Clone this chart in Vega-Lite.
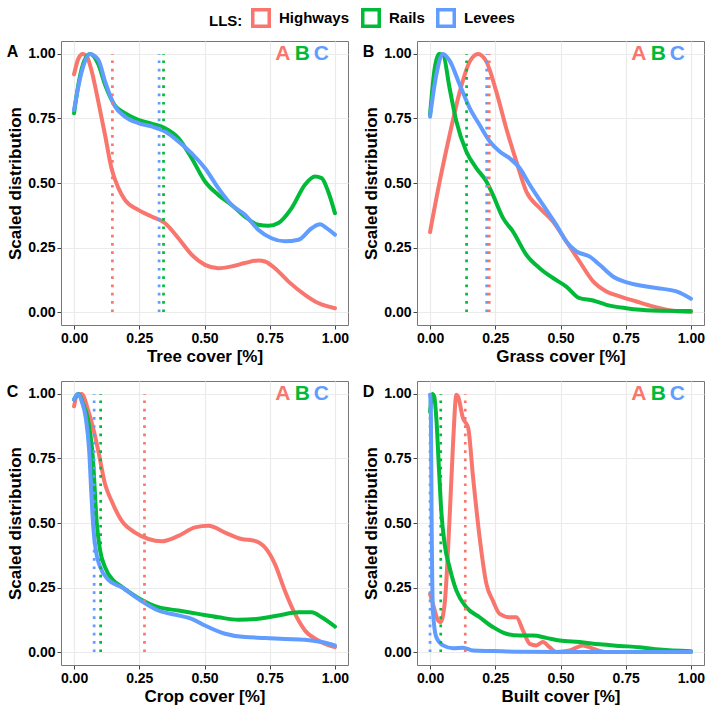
{
  "$schema": "https://vega.github.io/schema/vega-lite/v6.json",
  "autosize": {"type": "pad"},
  "padding": {"left": 6, "top": 8, "right": 5, "bottom": 5},
  "background": "white",
  "config": {
    "font": "Liberation Sans",
    "view": {"stroke": "#777777", "strokeWidth": 1},
    "axis": {
      "domain": false,
      "labelFont": "Liberation Sans",
      "labelFontSize": 14,
      "labelFontWeight": "bold",
      "labelColor": "#000000",
      "labelPadding": 2,
      "titleFont": "Liberation Sans",
      "titleFontSize": 17,
      "titleFontWeight": "bold",
      "titleColor": "#000000",
      "titlePadding": 3,
      "tickColor": "#444444",
      "tickSize": 4,
      "gridColor": "#ebebeb",
      "labelOverlap": false,
      "labelFlush": false
    },
    "legend": {
      "orient": "none",
      "legendX": 148,
      "legendY": -33,
      "direction": "horizontal",
      "gridAlign": "none",
      "titleOrient": "left",
      "titleFont": "Liberation Sans",
      "titleFontSize": 15,
      "titleFontWeight": "bold",
      "titleColor": "#000000",
      "titlePadding": 8,
      "labelFont": "Liberation Sans",
      "labelFontSize": 15,
      "labelFontWeight": "bold",
      "labelColor": "#000000",
      "labelOffset": 8,
      "columnPadding": 5,
      "symbolType": "square",
      "symbolSize": 272,
      "symbolStrokeWidth": 3.5,
      "symbolFillColor": "white",
      "symbolDash": []
    },
    "title": {"font": "Liberation Sans", "fontSize": 16, "fontWeight": "bold", "color": "#000000"}
  },
  "datasets": {
    "curves": [
      {"cover": "Tree", "LLS": "Highways", "x": 0, "y": 0.921},
      {"cover": "Tree", "LLS": "Highways", "x": 0.017, "y": 0.983},
      {"cover": "Tree", "LLS": "Highways", "x": 0.033, "y": 1.0},
      {"cover": "Tree", "LLS": "Highways", "x": 0.049, "y": 0.99},
      {"cover": "Tree", "LLS": "Highways", "x": 0.068, "y": 0.932},
      {"cover": "Tree", "LLS": "Highways", "x": 0.093, "y": 0.815},
      {"cover": "Tree", "LLS": "Highways", "x": 0.119, "y": 0.685},
      {"cover": "Tree", "LLS": "Highways", "x": 0.144, "y": 0.555},
      {"cover": "Tree", "LLS": "Highways", "x": 0.17, "y": 0.48},
      {"cover": "Tree", "LLS": "Highways", "x": 0.195, "y": 0.435},
      {"cover": "Tree", "LLS": "Highways", "x": 0.246, "y": 0.396},
      {"cover": "Tree", "LLS": "Highways", "x": 0.297, "y": 0.37},
      {"cover": "Tree", "LLS": "Highways", "x": 0.348, "y": 0.345},
      {"cover": "Tree", "LLS": "Highways", "x": 0.4, "y": 0.286},
      {"cover": "Tree", "LLS": "Highways", "x": 0.451, "y": 0.222},
      {"cover": "Tree", "LLS": "Highways", "x": 0.502, "y": 0.183},
      {"cover": "Tree", "LLS": "Highways", "x": 0.553, "y": 0.17},
      {"cover": "Tree", "LLS": "Highways", "x": 0.604, "y": 0.177},
      {"cover": "Tree", "LLS": "Highways", "x": 0.655, "y": 0.19},
      {"cover": "Tree", "LLS": "Highways", "x": 0.706, "y": 0.2},
      {"cover": "Tree", "LLS": "Highways", "x": 0.732, "y": 0.196},
      {"cover": "Tree", "LLS": "Highways", "x": 0.77, "y": 0.17},
      {"cover": "Tree", "LLS": "Highways", "x": 0.821, "y": 0.119},
      {"cover": "Tree", "LLS": "Highways", "x": 0.885, "y": 0.067},
      {"cover": "Tree", "LLS": "Highways", "x": 0.936, "y": 0.035},
      {"cover": "Tree", "LLS": "Highways", "x": 1.0, "y": 0.015},

      {"cover": "Tree", "LLS": "Rails", "x": 0, "y": 0.77},
      {"cover": "Tree", "LLS": "Rails", "x": 0.02, "y": 0.9},
      {"cover": "Tree", "LLS": "Rails", "x": 0.04, "y": 0.975},
      {"cover": "Tree", "LLS": "Rails", "x": 0.061, "y": 1.0},
      {"cover": "Tree", "LLS": "Rails", "x": 0.093, "y": 0.96},
      {"cover": "Tree", "LLS": "Rails", "x": 0.119, "y": 0.88},
      {"cover": "Tree", "LLS": "Rails", "x": 0.157, "y": 0.8},
      {"cover": "Tree", "LLS": "Rails", "x": 0.195, "y": 0.77},
      {"cover": "Tree", "LLS": "Rails", "x": 0.246, "y": 0.745},
      {"cover": "Tree", "LLS": "Rails", "x": 0.297, "y": 0.73},
      {"cover": "Tree", "LLS": "Rails", "x": 0.349, "y": 0.712},
      {"cover": "Tree", "LLS": "Rails", "x": 0.4, "y": 0.674},
      {"cover": "Tree", "LLS": "Rails", "x": 0.451, "y": 0.596},
      {"cover": "Tree", "LLS": "Rails", "x": 0.502, "y": 0.506},
      {"cover": "Tree", "LLS": "Rails", "x": 0.553, "y": 0.454},
      {"cover": "Tree", "LLS": "Rails", "x": 0.604, "y": 0.415},
      {"cover": "Tree", "LLS": "Rails", "x": 0.655, "y": 0.37},
      {"cover": "Tree", "LLS": "Rails", "x": 0.706, "y": 0.338},
      {"cover": "Tree", "LLS": "Rails", "x": 0.745, "y": 0.334},
      {"cover": "Tree", "LLS": "Rails", "x": 0.783, "y": 0.345},
      {"cover": "Tree", "LLS": "Rails", "x": 0.834, "y": 0.403},
      {"cover": "Tree", "LLS": "Rails", "x": 0.885, "y": 0.493},
      {"cover": "Tree", "LLS": "Rails", "x": 0.923, "y": 0.525},
      {"cover": "Tree", "LLS": "Rails", "x": 0.949, "y": 0.519},
      {"cover": "Tree", "LLS": "Rails", "x": 0.974, "y": 0.467},
      {"cover": "Tree", "LLS": "Rails", "x": 1.0, "y": 0.383},

      {"cover": "Tree", "LLS": "Levees", "x": 0, "y": 0.783},
      {"cover": "Tree", "LLS": "Levees", "x": 0.029, "y": 0.93},
      {"cover": "Tree", "LLS": "Levees", "x": 0.061, "y": 1.0},
      {"cover": "Tree", "LLS": "Levees", "x": 0.093, "y": 0.977},
      {"cover": "Tree", "LLS": "Levees", "x": 0.119, "y": 0.893},
      {"cover": "Tree", "LLS": "Levees", "x": 0.157, "y": 0.796},
      {"cover": "Tree", "LLS": "Levees", "x": 0.195, "y": 0.757},
      {"cover": "Tree", "LLS": "Levees", "x": 0.246, "y": 0.732},
      {"cover": "Tree", "LLS": "Levees", "x": 0.297, "y": 0.719},
      {"cover": "Tree", "LLS": "Levees", "x": 0.349, "y": 0.699},
      {"cover": "Tree", "LLS": "Levees", "x": 0.4, "y": 0.661},
      {"cover": "Tree", "LLS": "Levees", "x": 0.451, "y": 0.615},
      {"cover": "Tree", "LLS": "Levees", "x": 0.502, "y": 0.557},
      {"cover": "Tree", "LLS": "Levees", "x": 0.553, "y": 0.48},
      {"cover": "Tree", "LLS": "Levees", "x": 0.604, "y": 0.415},
      {"cover": "Tree", "LLS": "Levees", "x": 0.655, "y": 0.377},
      {"cover": "Tree", "LLS": "Levees", "x": 0.706, "y": 0.319},
      {"cover": "Tree", "LLS": "Levees", "x": 0.757, "y": 0.286},
      {"cover": "Tree", "LLS": "Levees", "x": 0.808, "y": 0.274},
      {"cover": "Tree", "LLS": "Levees", "x": 0.86, "y": 0.28},
      {"cover": "Tree", "LLS": "Levees", "x": 0.911, "y": 0.325},
      {"cover": "Tree", "LLS": "Levees", "x": 0.943, "y": 0.34},
      {"cover": "Tree", "LLS": "Levees", "x": 0.968, "y": 0.325},
      {"cover": "Tree", "LLS": "Levees", "x": 1.0, "y": 0.3},

      {"cover": "Grass", "LLS": "Highways", "x": 0, "y": 0.31},
      {"cover": "Grass", "LLS": "Highways", "x": 0.037, "y": 0.506},
      {"cover": "Grass", "LLS": "Highways", "x": 0.075, "y": 0.686},
      {"cover": "Grass", "LLS": "Highways", "x": 0.114, "y": 0.854},
      {"cover": "Grass", "LLS": "Highways", "x": 0.152, "y": 0.97},
      {"cover": "Grass", "LLS": "Highways", "x": 0.184, "y": 1.0},
      {"cover": "Grass", "LLS": "Highways", "x": 0.216, "y": 0.97},
      {"cover": "Grass", "LLS": "Highways", "x": 0.254, "y": 0.854},
      {"cover": "Grass", "LLS": "Highways", "x": 0.292, "y": 0.712},
      {"cover": "Grass", "LLS": "Highways", "x": 0.331, "y": 0.583},
      {"cover": "Grass", "LLS": "Highways", "x": 0.369, "y": 0.467},
      {"cover": "Grass", "LLS": "Highways", "x": 0.42, "y": 0.403},
      {"cover": "Grass", "LLS": "Highways", "x": 0.471, "y": 0.351},
      {"cover": "Grass", "LLS": "Highways", "x": 0.522, "y": 0.274},
      {"cover": "Grass", "LLS": "Highways", "x": 0.573, "y": 0.196},
      {"cover": "Grass", "LLS": "Highways", "x": 0.625, "y": 0.119},
      {"cover": "Grass", "LLS": "Highways", "x": 0.676, "y": 0.08},
      {"cover": "Grass", "LLS": "Highways", "x": 0.727, "y": 0.061},
      {"cover": "Grass", "LLS": "Highways", "x": 0.791, "y": 0.041},
      {"cover": "Grass", "LLS": "Highways", "x": 0.854, "y": 0.022},
      {"cover": "Grass", "LLS": "Highways", "x": 0.931, "y": 0.005},
      {"cover": "Grass", "LLS": "Highways", "x": 1.0, "y": 0.0},

      {"cover": "Grass", "LLS": "Rails", "x": 0, "y": 0.764},
      {"cover": "Grass", "LLS": "Rails", "x": 0.018, "y": 0.945},
      {"cover": "Grass", "LLS": "Rails", "x": 0.034, "y": 1.0},
      {"cover": "Grass", "LLS": "Rails", "x": 0.05, "y": 0.996},
      {"cover": "Grass", "LLS": "Rails", "x": 0.075, "y": 0.867},
      {"cover": "Grass", "LLS": "Rails", "x": 0.101, "y": 0.738},
      {"cover": "Grass", "LLS": "Rails", "x": 0.139, "y": 0.622},
      {"cover": "Grass", "LLS": "Rails", "x": 0.178, "y": 0.557},
      {"cover": "Grass", "LLS": "Rails", "x": 0.216, "y": 0.506},
      {"cover": "Grass", "LLS": "Rails", "x": 0.241, "y": 0.454},
      {"cover": "Grass", "LLS": "Rails", "x": 0.28, "y": 0.364},
      {"cover": "Grass", "LLS": "Rails", "x": 0.318, "y": 0.312},
      {"cover": "Grass", "LLS": "Rails", "x": 0.369, "y": 0.222},
      {"cover": "Grass", "LLS": "Rails", "x": 0.42, "y": 0.17},
      {"cover": "Grass", "LLS": "Rails", "x": 0.471, "y": 0.132},
      {"cover": "Grass", "LLS": "Rails", "x": 0.522, "y": 0.099},
      {"cover": "Grass", "LLS": "Rails", "x": 0.573, "y": 0.054},
      {"cover": "Grass", "LLS": "Rails", "x": 0.625, "y": 0.045},
      {"cover": "Grass", "LLS": "Rails", "x": 0.676, "y": 0.028},
      {"cover": "Grass", "LLS": "Rails", "x": 0.752, "y": 0.015},
      {"cover": "Grass", "LLS": "Rails", "x": 0.854, "y": 0.006},
      {"cover": "Grass", "LLS": "Rails", "x": 1.0, "y": 0.004},

      {"cover": "Grass", "LLS": "Levees", "x": 0, "y": 0.757},
      {"cover": "Grass", "LLS": "Levees", "x": 0.024, "y": 0.919},
      {"cover": "Grass", "LLS": "Levees", "x": 0.05, "y": 1.0},
      {"cover": "Grass", "LLS": "Levees", "x": 0.075, "y": 0.974},
      {"cover": "Grass", "LLS": "Levees", "x": 0.114, "y": 0.88},
      {"cover": "Grass", "LLS": "Levees", "x": 0.152, "y": 0.79},
      {"cover": "Grass", "LLS": "Levees", "x": 0.19, "y": 0.725},
      {"cover": "Grass", "LLS": "Levees", "x": 0.229, "y": 0.661},
      {"cover": "Grass", "LLS": "Levees", "x": 0.267, "y": 0.622},
      {"cover": "Grass", "LLS": "Levees", "x": 0.305, "y": 0.596},
      {"cover": "Grass", "LLS": "Levees", "x": 0.344, "y": 0.557},
      {"cover": "Grass", "LLS": "Levees", "x": 0.382, "y": 0.493},
      {"cover": "Grass", "LLS": "Levees", "x": 0.433, "y": 0.415},
      {"cover": "Grass", "LLS": "Levees", "x": 0.484, "y": 0.338},
      {"cover": "Grass", "LLS": "Levees", "x": 0.522, "y": 0.274},
      {"cover": "Grass", "LLS": "Levees", "x": 0.561, "y": 0.235},
      {"cover": "Grass", "LLS": "Levees", "x": 0.612, "y": 0.215},
      {"cover": "Grass", "LLS": "Levees", "x": 0.65, "y": 0.183},
      {"cover": "Grass", "LLS": "Levees", "x": 0.701, "y": 0.138},
      {"cover": "Grass", "LLS": "Levees", "x": 0.765, "y": 0.112},
      {"cover": "Grass", "LLS": "Levees", "x": 0.829, "y": 0.099},
      {"cover": "Grass", "LLS": "Levees", "x": 0.893, "y": 0.09},
      {"cover": "Grass", "LLS": "Levees", "x": 0.944, "y": 0.08},
      {"cover": "Grass", "LLS": "Levees", "x": 1.0, "y": 0.052},

      {"cover": "Crop", "LLS": "Highways", "x": 0, "y": 0.952},
      {"cover": "Crop", "LLS": "Highways", "x": 0.013, "y": 0.997},
      {"cover": "Crop", "LLS": "Highways", "x": 0.029, "y": 1.0},
      {"cover": "Crop", "LLS": "Highways", "x": 0.055, "y": 0.933},
      {"cover": "Crop", "LLS": "Highways", "x": 0.075, "y": 0.86},
      {"cover": "Crop", "LLS": "Highways", "x": 0.093, "y": 0.779},
      {"cover": "Crop", "LLS": "Highways", "x": 0.119, "y": 0.65},
      {"cover": "Crop", "LLS": "Highways", "x": 0.144, "y": 0.585},
      {"cover": "Crop", "LLS": "Highways", "x": 0.183, "y": 0.508},
      {"cover": "Crop", "LLS": "Highways", "x": 0.234, "y": 0.463},
      {"cover": "Crop", "LLS": "Highways", "x": 0.285, "y": 0.438},
      {"cover": "Crop", "LLS": "Highways", "x": 0.336, "y": 0.429},
      {"cover": "Crop", "LLS": "Highways", "x": 0.4, "y": 0.45},
      {"cover": "Crop", "LLS": "Highways", "x": 0.464, "y": 0.483},
      {"cover": "Crop", "LLS": "Highways", "x": 0.515, "y": 0.489},
      {"cover": "Crop", "LLS": "Highways", "x": 0.579, "y": 0.463},
      {"cover": "Crop", "LLS": "Highways", "x": 0.642, "y": 0.438},
      {"cover": "Crop", "LLS": "Highways", "x": 0.693, "y": 0.431},
      {"cover": "Crop", "LLS": "Highways", "x": 0.732, "y": 0.405},
      {"cover": "Crop", "LLS": "Highways", "x": 0.77, "y": 0.341},
      {"cover": "Crop", "LLS": "Highways", "x": 0.808, "y": 0.238},
      {"cover": "Crop", "LLS": "Highways", "x": 0.847, "y": 0.148},
      {"cover": "Crop", "LLS": "Highways", "x": 0.885, "y": 0.084},
      {"cover": "Crop", "LLS": "Highways", "x": 0.936, "y": 0.045},
      {"cover": "Crop", "LLS": "Highways", "x": 1.0, "y": 0.019},

      {"cover": "Crop", "LLS": "Rails", "x": 0, "y": 0.978},
      {"cover": "Crop", "LLS": "Rails", "x": 0.017, "y": 1.0},
      {"cover": "Crop", "LLS": "Rails", "x": 0.035, "y": 0.96},
      {"cover": "Crop", "LLS": "Rails", "x": 0.052, "y": 0.907},
      {"cover": "Crop", "LLS": "Rails", "x": 0.072, "y": 0.753},
      {"cover": "Crop", "LLS": "Rails", "x": 0.087, "y": 0.5},
      {"cover": "Crop", "LLS": "Rails", "x": 0.1, "y": 0.393},
      {"cover": "Crop", "LLS": "Rails", "x": 0.119, "y": 0.328},
      {"cover": "Crop", "LLS": "Rails", "x": 0.151, "y": 0.277},
      {"cover": "Crop", "LLS": "Rails", "x": 0.183, "y": 0.253},
      {"cover": "Crop", "LLS": "Rails", "x": 0.246, "y": 0.21},
      {"cover": "Crop", "LLS": "Rails", "x": 0.323, "y": 0.174},
      {"cover": "Crop", "LLS": "Rails", "x": 0.4, "y": 0.161},
      {"cover": "Crop", "LLS": "Rails", "x": 0.476, "y": 0.148},
      {"cover": "Crop", "LLS": "Rails", "x": 0.553, "y": 0.135},
      {"cover": "Crop", "LLS": "Rails", "x": 0.63, "y": 0.125},
      {"cover": "Crop", "LLS": "Rails", "x": 0.706, "y": 0.129},
      {"cover": "Crop", "LLS": "Rails", "x": 0.783, "y": 0.142},
      {"cover": "Crop", "LLS": "Rails", "x": 0.86, "y": 0.154},
      {"cover": "Crop", "LLS": "Rails", "x": 0.911, "y": 0.154},
      {"cover": "Crop", "LLS": "Rails", "x": 0.949, "y": 0.135},
      {"cover": "Crop", "LLS": "Rails", "x": 1.0, "y": 0.099},

      {"cover": "Crop", "LLS": "Levees", "x": 0, "y": 0.978},
      {"cover": "Crop", "LLS": "Levees", "x": 0.013, "y": 1.0},
      {"cover": "Crop", "LLS": "Levees", "x": 0.03, "y": 0.97},
      {"cover": "Crop", "LLS": "Levees", "x": 0.045, "y": 0.907},
      {"cover": "Crop", "LLS": "Levees", "x": 0.058, "y": 0.78},
      {"cover": "Crop", "LLS": "Levees", "x": 0.066, "y": 0.62},
      {"cover": "Crop", "LLS": "Levees", "x": 0.074, "y": 0.48},
      {"cover": "Crop", "LLS": "Levees", "x": 0.085, "y": 0.385},
      {"cover": "Crop", "LLS": "Levees", "x": 0.1, "y": 0.33},
      {"cover": "Crop", "LLS": "Levees", "x": 0.132, "y": 0.28},
      {"cover": "Crop", "LLS": "Levees", "x": 0.183, "y": 0.251},
      {"cover": "Crop", "LLS": "Levees", "x": 0.246, "y": 0.206},
      {"cover": "Crop", "LLS": "Levees", "x": 0.323, "y": 0.161},
      {"cover": "Crop", "LLS": "Levees", "x": 0.4, "y": 0.142},
      {"cover": "Crop", "LLS": "Levees", "x": 0.451, "y": 0.129},
      {"cover": "Crop", "LLS": "Levees", "x": 0.502, "y": 0.103},
      {"cover": "Crop", "LLS": "Levees", "x": 0.579, "y": 0.071},
      {"cover": "Crop", "LLS": "Levees", "x": 0.655, "y": 0.058},
      {"cover": "Crop", "LLS": "Levees", "x": 0.732, "y": 0.055},
      {"cover": "Crop", "LLS": "Levees", "x": 0.808, "y": 0.051},
      {"cover": "Crop", "LLS": "Levees", "x": 0.885, "y": 0.048},
      {"cover": "Crop", "LLS": "Levees", "x": 0.949, "y": 0.039},
      {"cover": "Crop", "LLS": "Levees", "x": 1.0, "y": 0.026},

      {"cover": "Built", "LLS": "Highways", "x": 0, "y": 0.225},
      {"cover": "Built", "LLS": "Highways", "x": 0.011, "y": 0.187},
      {"cover": "Built", "LLS": "Highways", "x": 0.031, "y": 0.122},
      {"cover": "Built", "LLS": "Highways", "x": 0.04, "y": 0.116},
      {"cover": "Built", "LLS": "Highways", "x": 0.056, "y": 0.187},
      {"cover": "Built", "LLS": "Highways", "x": 0.075, "y": 0.521},
      {"cover": "Built", "LLS": "Highways", "x": 0.088, "y": 0.804},
      {"cover": "Built", "LLS": "Highways", "x": 0.101, "y": 0.997},
      {"cover": "Built", "LLS": "Highways", "x": 0.107, "y": 0.991},
      {"cover": "Built", "LLS": "Highways", "x": 0.126, "y": 0.907},
      {"cover": "Built", "LLS": "Highways", "x": 0.146, "y": 0.869},
      {"cover": "Built", "LLS": "Highways", "x": 0.165, "y": 0.676},
      {"cover": "Built", "LLS": "Highways", "x": 0.19, "y": 0.444},
      {"cover": "Built", "LLS": "Highways", "x": 0.216, "y": 0.264},
      {"cover": "Built", "LLS": "Highways", "x": 0.241, "y": 0.199},
      {"cover": "Built", "LLS": "Highways", "x": 0.267, "y": 0.148},
      {"cover": "Built", "LLS": "Highways", "x": 0.305, "y": 0.135},
      {"cover": "Built", "LLS": "Highways", "x": 0.331, "y": 0.135},
      {"cover": "Built", "LLS": "Highways", "x": 0.356, "y": 0.084},
      {"cover": "Built", "LLS": "Highways", "x": 0.382, "y": 0.032},
      {"cover": "Built", "LLS": "Highways", "x": 0.407, "y": 0.026},
      {"cover": "Built", "LLS": "Highways", "x": 0.433, "y": 0.039},
      {"cover": "Built", "LLS": "Highways", "x": 0.458, "y": 0.019},
      {"cover": "Built", "LLS": "Highways", "x": 0.484, "y": 0.0},
      {"cover": "Built", "LLS": "Highways", "x": 0.535, "y": 0.006},
      {"cover": "Built", "LLS": "Highways", "x": 0.586, "y": 0.026},
      {"cover": "Built", "LLS": "Highways", "x": 0.625, "y": 0.013},
      {"cover": "Built", "LLS": "Highways", "x": 0.676, "y": 0.0},
      {"cover": "Built", "LLS": "Highways", "x": 0.8, "y": 0.0},
      {"cover": "Built", "LLS": "Highways", "x": 1.0, "y": 0.0},

      {"cover": "Built", "LLS": "Rails", "x": 0, "y": 0.93},
      {"cover": "Built", "LLS": "Rails", "x": 0.009, "y": 1.0},
      {"cover": "Built", "LLS": "Rails", "x": 0.016, "y": 0.99},
      {"cover": "Built", "LLS": "Rails", "x": 0.024, "y": 0.907},
      {"cover": "Built", "LLS": "Rails", "x": 0.034, "y": 0.714},
      {"cover": "Built", "LLS": "Rails", "x": 0.043, "y": 0.547},
      {"cover": "Built", "LLS": "Rails", "x": 0.056, "y": 0.418},
      {"cover": "Built", "LLS": "Rails", "x": 0.075, "y": 0.328},
      {"cover": "Built", "LLS": "Rails", "x": 0.101, "y": 0.238},
      {"cover": "Built", "LLS": "Rails", "x": 0.139, "y": 0.174},
      {"cover": "Built", "LLS": "Rails", "x": 0.19, "y": 0.135},
      {"cover": "Built", "LLS": "Rails", "x": 0.241, "y": 0.097},
      {"cover": "Built", "LLS": "Rails", "x": 0.292, "y": 0.071},
      {"cover": "Built", "LLS": "Rails", "x": 0.344, "y": 0.064},
      {"cover": "Built", "LLS": "Rails", "x": 0.395, "y": 0.064},
      {"cover": "Built", "LLS": "Rails", "x": 0.446, "y": 0.055},
      {"cover": "Built", "LLS": "Rails", "x": 0.497, "y": 0.045},
      {"cover": "Built", "LLS": "Rails", "x": 0.573, "y": 0.039},
      {"cover": "Built", "LLS": "Rails", "x": 0.65, "y": 0.03},
      {"cover": "Built", "LLS": "Rails", "x": 0.727, "y": 0.024},
      {"cover": "Built", "LLS": "Rails", "x": 0.803, "y": 0.019},
      {"cover": "Built", "LLS": "Rails", "x": 0.88, "y": 0.01},
      {"cover": "Built", "LLS": "Rails", "x": 1.0, "y": 0.003},

      {"cover": "Built", "LLS": "Levees", "x": 0, "y": 0.997},
      {"cover": "Built", "LLS": "Levees", "x": 0.003, "y": 0.95},
      {"cover": "Built", "LLS": "Levees", "x": 0.006, "y": 0.52},
      {"cover": "Built", "LLS": "Levees", "x": 0.011, "y": 0.161},
      {"cover": "Built", "LLS": "Levees", "x": 0.024, "y": 0.058},
      {"cover": "Built", "LLS": "Levees", "x": 0.05, "y": 0.026},
      {"cover": "Built", "LLS": "Levees", "x": 0.088, "y": 0.015},
      {"cover": "Built", "LLS": "Levees", "x": 0.126, "y": 0.017},
      {"cover": "Built", "LLS": "Levees", "x": 0.165, "y": 0.006},
      {"cover": "Built", "LLS": "Levees", "x": 0.241, "y": 0.004},
      {"cover": "Built", "LLS": "Levees", "x": 0.344, "y": 0.001},
      {"cover": "Built", "LLS": "Levees", "x": 0.5, "y": 0.0},
      {"cover": "Built", "LLS": "Levees", "x": 1.0, "y": 0.0}
    ],
    "medians": [
      {"cover": "Tree", "LLS": "Highways", "x": 0.147},
      {"cover": "Tree", "LLS": "Rails", "x": 0.343},
      {"cover": "Tree", "LLS": "Levees", "x": 0.326},
      {"cover": "Grass", "LLS": "Highways", "x": 0.227},
      {"cover": "Grass", "LLS": "Rails", "x": 0.14},
      {"cover": "Grass", "LLS": "Levees", "x": 0.217},
      {"cover": "Crop", "LLS": "Highways", "x": 0.27},
      {"cover": "Crop", "LLS": "Rails", "x": 0.102},
      {"cover": "Crop", "LLS": "Levees", "x": 0.077},
      {"cover": "Built", "LLS": "Highways", "x": 0.135},
      {"cover": "Built", "LLS": "Rails", "x": 0.041},
      {"cover": "Built", "LLS": "Levees", "x": 0.0}
    ]
  },
  "columns": 2,
  "spacing": {"row": 56, "column": 69},
  "bounds": "flush",
  "resolve": {"scale": {"color": "shared"}, "legend": {"color": "shared"}},
  "concat": [
    {
      "width": 287, "height": 284,
      "title": {"text": "A", "anchor": "start", "frame": "bounds", "baseline": "top", "offset": -19},
      "layer": [
        {
          "data": {"name": "curves"},
          "transform": [{"filter": "datum.cover === 'Tree'"}],
          "mark": {"type": "line", "strokeWidth": 4, "interpolate": "monotone", "strokeCap": "round", "strokeJoin": "round"},
          "encoding": {
            "x": {"field": "x", "type": "quantitative", "scale": {"domain": [-0.05, 1.05], "nice": false, "zero": false},
                  "axis": {"title": "Tree cover [%]", "values": [0, 0.125, 0.25, 0.375, 0.5, 0.625, 0.75, 0.875, 1],
                           "labelExpr": "(datum.value * 4) % 1 == 0 ? format(datum.value, '.2f') : ''",
                           "tickOpacity": {"condition": {"test": "(datum.value * 4) % 1 != 0", "value": 0}, "value": 1},
                           "gridWidth": {"condition": {"test": "(datum.value * 4) % 1 != 0", "value": 0.6}, "value": 1.2}}},
            "y": {"field": "y", "type": "quantitative", "scale": {"domain": [-0.05, 1.05], "nice": false, "zero": false},
                  "axis": {"title": "Scaled distribution", "values": [0, 0.125, 0.25, 0.375, 0.5, 0.625, 0.75, 0.875, 1],
                           "labelExpr": "(datum.value * 4) % 1 == 0 ? format(datum.value, '.2f') : ''",
                           "tickOpacity": {"condition": {"test": "(datum.value * 4) % 1 != 0", "value": 0}, "value": 1},
                           "gridWidth": {"condition": {"test": "(datum.value * 4) % 1 != 0", "value": 0.6}, "value": 1.2}}},
            "color": {"field": "LLS", "type": "nominal", "title": "LLS:",
                      "scale": {"domain": ["Highways", "Rails", "Levees"], "range": ["#F8766D", "#00BA38", "#619CFF"]}}
          }
        },
        {
          "data": {"name": "medians"},
          "transform": [{"filter": "datum.cover === 'Tree'"}],
          "mark": {"type": "rule", "strokeWidth": 2.7, "strokeDash": [2.7, 5.6]},
          "encoding": {"x": {"field": "x", "type": "quantitative"}, "y": {"datum": 0}, "y2": {"datum": 1},
                       "color": {"field": "LLS", "type": "nominal"}}
        },
        {"data": {"values": [{}]}, "mark": {"type": "text", "text": "A", "color": "#F8766D", "fontSize": 21, "fontWeight": "bold", "baseline": "middle"}, "encoding": {"x": {"datum": 0.8}, "y": {"datum": 1}}},
        {"data": {"values": [{}]}, "mark": {"type": "text", "text": "B", "color": "#00BA38", "fontSize": 21, "fontWeight": "bold", "baseline": "middle"}, "encoding": {"x": {"datum": 0.875}, "y": {"datum": 1}}},
        {"data": {"values": [{}]}, "mark": {"type": "text", "text": "C", "color": "#619CFF", "fontSize": 21, "fontWeight": "bold", "baseline": "middle"}, "encoding": {"x": {"datum": 0.948}, "y": {"datum": 1}}}
      ]
    },
    {
      "width": 287, "height": 284,
      "title": {"text": "B", "anchor": "start", "frame": "bounds", "baseline": "top", "offset": -19},
      "layer": [
        {
          "data": {"name": "curves"},
          "transform": [{"filter": "datum.cover === 'Grass'"}],
          "mark": {"type": "line", "strokeWidth": 4, "interpolate": "monotone", "strokeCap": "round", "strokeJoin": "round"},
          "encoding": {
            "x": {"field": "x", "type": "quantitative", "scale": {"domain": [-0.05, 1.05], "nice": false, "zero": false},
                  "axis": {"title": "Grass cover [%]", "values": [0, 0.125, 0.25, 0.375, 0.5, 0.625, 0.75, 0.875, 1],
                           "labelExpr": "(datum.value * 4) % 1 == 0 ? format(datum.value, '.2f') : ''",
                           "tickOpacity": {"condition": {"test": "(datum.value * 4) % 1 != 0", "value": 0}, "value": 1},
                           "gridWidth": {"condition": {"test": "(datum.value * 4) % 1 != 0", "value": 0.6}, "value": 1.2}}},
            "y": {"field": "y", "type": "quantitative", "scale": {"domain": [-0.05, 1.05], "nice": false, "zero": false},
                  "axis": {"title": "Scaled distribution", "values": [0, 0.125, 0.25, 0.375, 0.5, 0.625, 0.75, 0.875, 1],
                           "labelExpr": "(datum.value * 4) % 1 == 0 ? format(datum.value, '.2f') : ''",
                           "tickOpacity": {"condition": {"test": "(datum.value * 4) % 1 != 0", "value": 0}, "value": 1},
                           "gridWidth": {"condition": {"test": "(datum.value * 4) % 1 != 0", "value": 0.6}, "value": 1.2}}},
            "color": {"field": "LLS", "type": "nominal", "title": "LLS:",
                      "scale": {"domain": ["Highways", "Rails", "Levees"], "range": ["#F8766D", "#00BA38", "#619CFF"]}}
          }
        },
        {
          "data": {"name": "medians"},
          "transform": [{"filter": "datum.cover === 'Grass'"}],
          "mark": {"type": "rule", "strokeWidth": 2.7, "strokeDash": [2.7, 5.6]},
          "encoding": {"x": {"field": "x", "type": "quantitative"}, "y": {"datum": 0}, "y2": {"datum": 1},
                       "color": {"field": "LLS", "type": "nominal"}}
        },
        {"data": {"values": [{}]}, "mark": {"type": "text", "text": "A", "color": "#F8766D", "fontSize": 21, "fontWeight": "bold", "baseline": "middle"}, "encoding": {"x": {"datum": 0.8}, "y": {"datum": 1}}},
        {"data": {"values": [{}]}, "mark": {"type": "text", "text": "B", "color": "#00BA38", "fontSize": 21, "fontWeight": "bold", "baseline": "middle"}, "encoding": {"x": {"datum": 0.875}, "y": {"datum": 1}}},
        {"data": {"values": [{}]}, "mark": {"type": "text", "text": "C", "color": "#619CFF", "fontSize": 21, "fontWeight": "bold", "baseline": "middle"}, "encoding": {"x": {"datum": 0.948}, "y": {"datum": 1}}}
      ]
    },
    {
      "width": 287, "height": 284,
      "title": {"text": "C", "anchor": "start", "frame": "bounds", "baseline": "top", "offset": -19},
      "layer": [
        {
          "data": {"name": "curves"},
          "transform": [{"filter": "datum.cover === 'Crop'"}],
          "mark": {"type": "line", "strokeWidth": 4, "interpolate": "monotone", "strokeCap": "round", "strokeJoin": "round"},
          "encoding": {
            "x": {"field": "x", "type": "quantitative", "scale": {"domain": [-0.05, 1.05], "nice": false, "zero": false},
                  "axis": {"title": "Crop cover [%]", "values": [0, 0.125, 0.25, 0.375, 0.5, 0.625, 0.75, 0.875, 1],
                           "labelExpr": "(datum.value * 4) % 1 == 0 ? format(datum.value, '.2f') : ''",
                           "tickOpacity": {"condition": {"test": "(datum.value * 4) % 1 != 0", "value": 0}, "value": 1},
                           "gridWidth": {"condition": {"test": "(datum.value * 4) % 1 != 0", "value": 0.6}, "value": 1.2}}},
            "y": {"field": "y", "type": "quantitative", "scale": {"domain": [-0.05, 1.05], "nice": false, "zero": false},
                  "axis": {"title": "Scaled distribution", "values": [0, 0.125, 0.25, 0.375, 0.5, 0.625, 0.75, 0.875, 1],
                           "labelExpr": "(datum.value * 4) % 1 == 0 ? format(datum.value, '.2f') : ''",
                           "tickOpacity": {"condition": {"test": "(datum.value * 4) % 1 != 0", "value": 0}, "value": 1},
                           "gridWidth": {"condition": {"test": "(datum.value * 4) % 1 != 0", "value": 0.6}, "value": 1.2}}},
            "color": {"field": "LLS", "type": "nominal", "title": "LLS:",
                      "scale": {"domain": ["Highways", "Rails", "Levees"], "range": ["#F8766D", "#00BA38", "#619CFF"]}}
          }
        },
        {
          "data": {"name": "medians"},
          "transform": [{"filter": "datum.cover === 'Crop'"}],
          "mark": {"type": "rule", "strokeWidth": 2.7, "strokeDash": [2.7, 5.6]},
          "encoding": {"x": {"field": "x", "type": "quantitative"}, "y": {"datum": 0}, "y2": {"datum": 1},
                       "color": {"field": "LLS", "type": "nominal"}}
        },
        {"data": {"values": [{}]}, "mark": {"type": "text", "text": "A", "color": "#F8766D", "fontSize": 21, "fontWeight": "bold", "baseline": "middle"}, "encoding": {"x": {"datum": 0.8}, "y": {"datum": 1}}},
        {"data": {"values": [{}]}, "mark": {"type": "text", "text": "B", "color": "#00BA38", "fontSize": 21, "fontWeight": "bold", "baseline": "middle"}, "encoding": {"x": {"datum": 0.875}, "y": {"datum": 1}}},
        {"data": {"values": [{}]}, "mark": {"type": "text", "text": "C", "color": "#619CFF", "fontSize": 21, "fontWeight": "bold", "baseline": "middle"}, "encoding": {"x": {"datum": 0.948}, "y": {"datum": 1}}}
      ]
    },
    {
      "width": 287, "height": 284,
      "title": {"text": "D", "anchor": "start", "frame": "bounds", "baseline": "top", "offset": -19},
      "layer": [
        {
          "data": {"name": "curves"},
          "transform": [{"filter": "datum.cover === 'Built'"}],
          "mark": {"type": "line", "strokeWidth": 4, "interpolate": "monotone", "strokeCap": "round", "strokeJoin": "round"},
          "encoding": {
            "x": {"field": "x", "type": "quantitative", "scale": {"domain": [-0.05, 1.05], "nice": false, "zero": false},
                  "axis": {"title": "Built cover [%]", "values": [0, 0.125, 0.25, 0.375, 0.5, 0.625, 0.75, 0.875, 1],
                           "labelExpr": "(datum.value * 4) % 1 == 0 ? format(datum.value, '.2f') : ''",
                           "tickOpacity": {"condition": {"test": "(datum.value * 4) % 1 != 0", "value": 0}, "value": 1},
                           "gridWidth": {"condition": {"test": "(datum.value * 4) % 1 != 0", "value": 0.6}, "value": 1.2}}},
            "y": {"field": "y", "type": "quantitative", "scale": {"domain": [-0.05, 1.05], "nice": false, "zero": false},
                  "axis": {"title": "Scaled distribution", "values": [0, 0.125, 0.25, 0.375, 0.5, 0.625, 0.75, 0.875, 1],
                           "labelExpr": "(datum.value * 4) % 1 == 0 ? format(datum.value, '.2f') : ''",
                           "tickOpacity": {"condition": {"test": "(datum.value * 4) % 1 != 0", "value": 0}, "value": 1},
                           "gridWidth": {"condition": {"test": "(datum.value * 4) % 1 != 0", "value": 0.6}, "value": 1.2}}},
            "color": {"field": "LLS", "type": "nominal", "title": "LLS:",
                      "scale": {"domain": ["Highways", "Rails", "Levees"], "range": ["#F8766D", "#00BA38", "#619CFF"]}}
          }
        },
        {
          "data": {"name": "medians"},
          "transform": [{"filter": "datum.cover === 'Built'"}],
          "mark": {"type": "rule", "strokeWidth": 2.7, "strokeDash": [2.7, 5.6]},
          "encoding": {"x": {"field": "x", "type": "quantitative"}, "y": {"datum": 0}, "y2": {"datum": 1},
                       "color": {"field": "LLS", "type": "nominal"}}
        },
        {"data": {"values": [{}]}, "mark": {"type": "text", "text": "A", "color": "#F8766D", "fontSize": 21, "fontWeight": "bold", "baseline": "middle"}, "encoding": {"x": {"datum": 0.8}, "y": {"datum": 1}}},
        {"data": {"values": [{}]}, "mark": {"type": "text", "text": "B", "color": "#00BA38", "fontSize": 21, "fontWeight": "bold", "baseline": "middle"}, "encoding": {"x": {"datum": 0.875}, "y": {"datum": 1}}},
        {"data": {"values": [{}]}, "mark": {"type": "text", "text": "C", "color": "#619CFF", "fontSize": 21, "fontWeight": "bold", "baseline": "middle"}, "encoding": {"x": {"datum": 0.948}, "y": {"datum": 1}}}
      ]
    }
  ]
}
